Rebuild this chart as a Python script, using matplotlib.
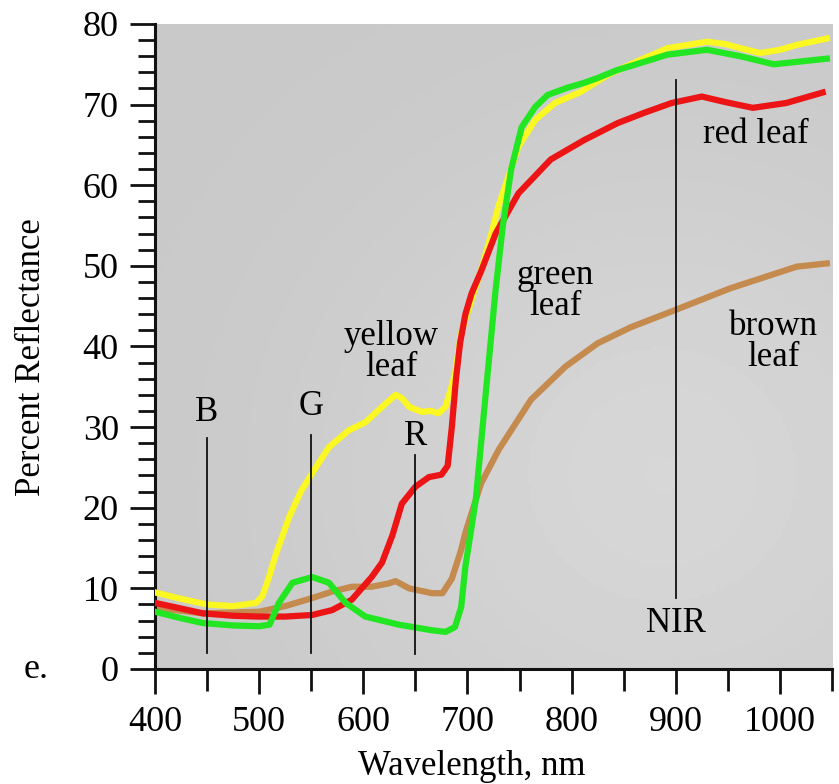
import numpy as np
import matplotlib.pyplot as plt
from matplotlib.ticker import MultipleLocator

# reflectance spectra of leaves (wavelength nm, percent reflectance)
yellow_nm = [400, 425, 450, 475, 497, 503, 509, 516, 529, 540, 551, 567, 586, 602,
             618, 631, 637, 644, 656, 665, 672, 679, 688, 694, 704, 714, 723, 730,
             736, 749, 765, 784, 809, 835, 860, 892, 930, 948, 962, 981, 1000, 1016, 1045]
yellow_pct = [9.5, 8.7, 8.0, 7.8, 8.2, 9.0, 11.2, 14.2, 18.9, 22.0, 24.3, 27.5, 29.6, 30.6,
              32.5, 34.0, 33.6, 32.5, 31.9, 32.0, 31.7, 32.5, 36.5, 41.7, 45.8, 49.9, 54.0, 57.5,
              59.8, 64.8, 68.1, 70.2, 71.6, 73.7, 75.2, 77.0, 77.8, 77.5, 77.0, 76.4, 76.8, 77.4, 78.2]

red_nm = [400, 425, 446, 475, 500, 525, 551, 570, 589, 608, 618, 628, 637, 650, 663,
          675, 681, 685, 689, 693, 698, 704, 713, 727, 749, 780, 812, 844, 870, 896, 925,
          948, 974, 1006, 1041]
red_pct = [8.2, 7.5, 6.9, 6.6, 6.5, 6.5, 6.7, 7.3, 8.6, 11.4, 13.2, 16.6, 20.5, 22.6, 23.8,
           24.1, 25.2, 30.0, 36.0, 40.5, 44.0, 46.6, 49.3, 54.0, 59.0, 63.2, 65.6, 67.7, 69.0,
           70.2, 71.0, 70.3, 69.6, 70.2, 71.5]

green_nm = [400, 425, 446, 475, 500, 510, 519, 532, 551, 567, 583, 602, 634, 666, 679,
            688, 694, 698, 708, 717, 727, 734, 742, 752, 765, 777, 796, 812, 825, 844, 857,
            892, 930, 962, 994, 1016, 1045]
green_pct = [7.1, 6.3, 5.7, 5.4, 5.3, 5.5, 8.2, 10.7, 11.4, 10.7, 8.2, 6.5, 5.5, 4.8, 4.6,
             5.2, 7.7, 12.7, 21.0, 33.4, 47.0, 55.0, 62.0, 67.2, 69.7, 71.2, 72.1, 72.7, 73.3,
             74.3, 74.8, 76.2, 76.8, 76.0, 75.0, 75.3, 75.7]

brown_nm = [400, 446, 500, 525, 551, 570, 589, 608, 624, 631, 644, 666, 676, 685, 694,
            698, 713, 730, 761, 794, 825, 857, 899, 952, 1016, 1045]
brown_pct = [7.6, 6.9, 7.1, 7.8, 8.8, 9.6, 10.2, 10.2, 10.6, 10.9, 10.0, 9.4, 9.4, 11.2, 14.8,
             16.9, 23.0, 27.2, 33.4, 37.5, 40.4, 42.4, 44.5, 47.2, 49.9, 50.3]

# band markers: name, wavelength, line bottom, line top, label y
bands = ['B', 'G', 'R', 'NIR']
band_nm = [450, 550, 650, 900]
band_lo = [2.0, 2.0, 1.8, 8.8]
band_hi = [28.7, 29.0, 26.5, 73.0]
band_label_y = [31.8, 32.5, 28.8, 5.7]

plt.rcParams['font.family'] = ['Liberation Serif', 'DejaVu Serif']

fig = plt.figure(figsize=(8.39, 7.84), dpi=100)
ax = fig.add_axes([0.1847, 0.1467, 0.8070, 0.8227])

# soft gray backdrop, a little lighter towards the lower right
gx, gy = np.meshgrid(np.linspace(0, 1, 200), np.linspace(0, 1, 200))
shade = 0.785 + 0.055 * np.exp(-((gx - 0.75) ** 2 + (gy - 0.3) ** 2) / 0.25)
ax.imshow(shade, cmap='gray', vmin=0, vmax=1, origin='lower',
          extent=[400, 1050, 0, 80], aspect='auto', zorder=0)

lw = 4.5
ax.plot(brown_nm, brown_pct, color='#c48a4e', lw=lw, solid_joinstyle='round', zorder=2)
ax.plot(yellow_nm, yellow_pct, color='#faf722', lw=lw, solid_joinstyle='round', zorder=3)
ax.plot(red_nm, red_pct, color='#ec1414', lw=lw, solid_joinstyle='round', zorder=4)
ax.plot(green_nm, green_pct, color='#22e622', lw=lw, solid_joinstyle='round', zorder=5)

fs = 25
for name, x, lo, hi, ly in zip(bands, band_nm, band_lo, band_hi, band_label_y):
    ax.plot([x, x], [lo, hi], color='#111111', lw=1.3, zorder=6)
    ax.text(x, ly, name, ha='center', va='center', fontsize=fs, zorder=7)

ax.text(627, 39.3, 'yellow\nleaf', ha='center', va='center', fontsize=fs, linespacing=0.92)
ax.text(784, 46.9, 'green\nleaf', ha='center', va='center', fontsize=fs, linespacing=0.92)
ax.text(994, 40.6, 'brown\nleaf', ha='center', va='center', fontsize=fs, linespacing=0.92)
ax.text(977, 66.3, 'red leaf', ha='center', va='center', fontsize=fs)

ax.set_xlim(400, 1050)
ax.set_ylim(0, 80)
ax.xaxis.set_major_locator(MultipleLocator(100))
ax.xaxis.set_minor_locator(MultipleLocator(50))
ax.yaxis.set_major_locator(MultipleLocator(10))
ax.yaxis.set_minor_locator(MultipleLocator(2))
ax.set_xticks([400, 500, 600, 700, 800, 900, 1000])
ax.tick_params(axis='both', which='major', direction='out', length=18, width=2,
               labelsize=26, color='#111111')
ax.tick_params(axis='y', which='major', pad=8)
ax.tick_params(axis='x', which='major', pad=9)
ax.tick_params(axis='y', which='minor', direction='out', length=12, width=2, color='#111111')
ax.tick_params(axis='x', which='minor', direction='out', length=16, width=2, color='#111111')

for side in ['top', 'right']:
    ax.spines[side].set_visible(False)
for side in ['left', 'bottom']:
    ax.spines[side].set_linewidth(2.2)
    ax.spines[side].set_color('#111111')

ax.set_xlabel('Wavelength, nm', fontsize=25)
ax.set_ylabel('Percent Reflectance', fontsize=25)
ax.xaxis.set_label_coords(0.468, -0.126)
ax.yaxis.set_label_coords(-0.158, 0.484)
fig.text(36 / 839, 1 - 669 / 784, 'e.', fontsize=26, ha='center', va='center')

fig.savefig('out.png', dpi=100)
